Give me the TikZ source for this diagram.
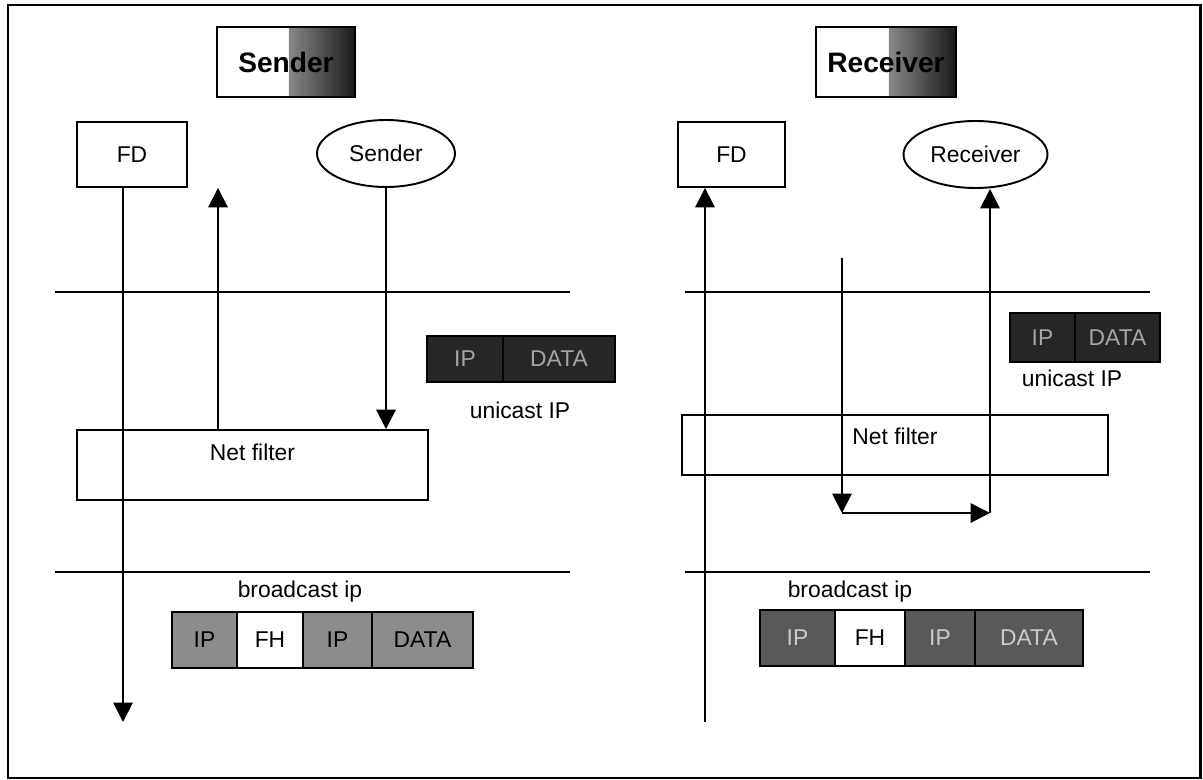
\documentclass[tikz,border=0pt]{standalone}
\usepackage{fontspec}
\setmainfont{Liberation Sans}
\usetikzlibrary{shapes.geometric, arrows.meta, positioning, calc}
\tikzstyle{titlebox} = [rectangle, draw=black, line width=1.2pt, minimum width=2.76cm, minimum height=1.4cm, font=\fontsize{16}{19}\selectfont\bfseries, path picture={\shade[left color=white, right color=black!90] ($(path picture bounding box.south west)!0.52!(path picture bounding box.south east)$) rectangle (path picture bounding box.north east);}]
\tikzstyle{block} = [rectangle, draw=black, line width=1.1pt]
\tikzstyle{proc} = [ellipse, draw=black, line width=1.1pt, minimum width=2.76cm, minimum height=1.34cm]
\tikzstyle{cell} = [rectangle, draw=black, line width=0.8pt, inner sep=0pt, outer sep=0pt]
\tikzstyle{arrow} = [line width=1.1pt, -{Triangle[width=11pt,length=11pt]}]
\tikzstyle{layer} = [line width=1.1pt]

\begin{document}
\begin{tikzpicture}[x=0.02cm, y=-0.02cm, font=\fontsize{13}{15}\selectfont]
  \useasboundingbox (0,0) rectangle (1203,780);
  \draw [line width=1.7pt] (8,5) rectangle (1200,778);
  % sender side
  \node (titleL) [titlebox] at (286,62) {Sender};
  \node (fdL) [block, minimum width=2.2cm, minimum height=1.3cm] at (132,154.5) {FD};
  \node (sendL) [proc] at (386,153.5) {Sender};
  \node (netL) [block, minimum width=7.02cm, minimum height=1.4cm, text depth=0.5cm] at (252.5,465) {Net filter};
  \draw [layer] (55,292) -- (570,292);
  \draw [layer] (55,572) -- (570,572);
  \node (uipL) [cell, fill=black!85, text=black!35, minimum width=1.52cm, minimum height=0.92cm] at (465,359) {IP};
  \node (udataL) [cell, fill=black!85, text=black!35, minimum width=2.24cm, minimum height=0.92cm, right=0pt of uipL] {DATA};
  \node (uniL) at (520,410) {unicast IP};
  \node (bcL) at (300,592) {broadcast ip};
  \node (bipL) [cell, fill=black!45, minimum width=1.3cm, minimum height=1.12cm] at (204.5,640) {IP};
  \node (bfhL) [cell, fill=white, minimum width=1.32cm, minimum height=1.12cm, right=0pt of bipL] {FH};
  \node (bip2L) [cell, fill=black!45, minimum width=1.38cm, minimum height=1.12cm, right=0pt of bfhL] {IP};
  \node (bdataL) [cell, fill=black!45, minimum width=2.02cm, minimum height=1.12cm, right=0pt of bip2L] {DATA};
  \coordinate (botL) at (123,722);
  \coordinate (upL) at (218,300);
  \draw [arrow] (fdL.south -| botL) -- (botL);
  \draw [arrow] (netL.north -| upL) -- (fdL.south -| upL);
  \draw [arrow] (sendL.south) -- (sendL.south |- netL.north);
  % receiver side
  \node (titleR) [titlebox, minimum width=2.8cm] at (886,62) {Receiver};
  \node (fdR) [block, minimum width=2.14cm, minimum height=1.3cm] at (731.5,154.5) {FD};
  \node (recvR) [proc, minimum width=2.7cm] at (975.5,154.5) {Receiver};
  \node (netR) [block, minimum width=8.52cm, minimum height=1.2cm, text depth=0.35cm] at (895,445) {Net filter};
  \draw [layer] (685,292) -- (1150,292);
  \draw [layer] (685,572) -- (1150,572);
  \node (uipR) [cell, fill=black!85, text=black!35, minimum width=1.3cm, minimum height=0.98cm] at (1042.5,337.5) {IP};
  \node (udataR) [cell, fill=black!85, text=black!35, minimum width=1.7cm, minimum height=0.98cm, right=0pt of uipR] {DATA};
  \node (uniR) at (1072,378) {unicast IP};
  \node (bcR) at (850,592) {broadcast ip};
  \node (bipR) [cell, fill=black!65, text=black!20, minimum width=1.5cm, minimum height=1.12cm] at (797.5,638) {IP};
  \node (bfhR) [cell, fill=white, minimum width=1.4cm, minimum height=1.12cm, right=0pt of bipR] {FH};
  \node (bip2R) [cell, fill=black!65, text=black!20, minimum width=1.4cm, minimum height=1.12cm, right=0pt of bfhR] {IP};
  \node (bdataR) [cell, fill=black!65, text=black!20, minimum width=2.16cm, minimum height=1.12cm, right=0pt of bip2R] {DATA};
  \coordinate (botR) at (705,722);
  \coordinate (topR) at (842,258);
  \coordinate (turnL) at (842,513);
  \coordinate (turnR) at (990,513);
  \draw [arrow] (botR) -- (fdR.south -| botR);
  \draw [arrow] (topR) -- (turnL);
  \draw [arrow] (turnL) -- (turnR);
  \draw [arrow] (turnR) -- (recvR.south -| turnR);
\end{tikzpicture}
\end{document}
